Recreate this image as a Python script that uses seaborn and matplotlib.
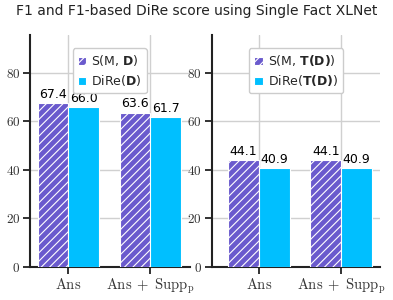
import numpy as np
import pandas as pd
import matplotlib
matplotlib.use("Agg")
import matplotlib.pyplot as plt
import seaborn as sns

# data
settings = ["Ans", "Ans + Supp_p"]
setting_labels = [r"$\mathrm{Ans}$", r"$\mathrm{Ans}\;+\;\mathrm{Supp}_\mathrm{p}$"]
metrics = ["S", "DiRe"]
left_s = [67.4, 63.6]
left_dire = [66.0, 61.7]
right_s = [44.1, 44.1]
right_dire = [40.9, 40.9]
left_legend = [r"S(M, $\mathbf{D}$)", r"DiRe($\mathbf{D}$)"]
right_legend = [r"S(M, $\mathbf{T(D)}$)", r"DiRe($\mathbf{T(D)}$)"]
yticks = [0, 20, 40, 60, 80]

colors = ["#6A5ACD", "#00BFFF"]

sns.set_style("whitegrid")
plt.rcParams["font.family"] = ["DejaVu Sans"]
plt.rcParams["mathtext.fontset"] = "dejavusans"
plt.rcParams["axes.edgecolor"] = "#222222"
plt.rcParams["grid.color"] = "#d0d0d0"
plt.rcParams["hatch.linewidth"] = 0.8


def long_df(s_vals, d_vals):
    rows = []
    for i, st in enumerate(settings):
        rows.append({"setting": st, "metric": "S", "score": s_vals[i]})
        rows.append({"setting": st, "metric": "DiRe", "score": d_vals[i]})
    return pd.DataFrame(rows)


fig = plt.figure(figsize=(3.93, 3.0), dpi=100)
ax1 = fig.add_axes([0.076, 0.11, 0.407, 0.773])
ax2 = fig.add_axes([0.539, 0.11, 0.428, 0.773])

panels = [
    (ax1, left_s, left_dire, left_legend, (-0.47, 1.48)),
    (ax2, right_s, right_dire, right_legend, (-0.57, 1.47)),
]

for ax, s_vals, d_vals, leg_labels, xlim in panels:
    df = long_df(s_vals, d_vals)
    sns.barplot(data=df, x="setting", y="score", hue="metric",
                hue_order=metrics, palette=colors, saturation=1, width=0.75,
                edgecolor="white", linewidth=0.8, ax=ax, zorder=3)
    for p in ax.containers[0]:
        p.set_hatch("////")
    for c in ax.containers:
        ax.bar_label(c, fmt="%.1f", padding=1.5, fontsize=9, color="black")
    ax.set_ylim(0, 95.5)
    ax.set_xlim(*xlim)
    ax.set_xlabel("")
    ax.set_ylabel("")
    ax.set_yticks(yticks)
    ax.set_yticklabels([f"${v}$" for v in yticks], math_fontfamily="cm", fontsize=9.5)
    ax.set_xticks(range(len(settings)))
    ax.set_xticklabels(setting_labels, math_fontfamily="cm", fontsize=10.5)
    ax.grid(True, color="#d0d0d0", linewidth=1, zorder=0)
    ax.set_axisbelow(True)
    sns.despine(ax=ax)
    ax.spines["left"].set_linewidth(1.5)
    ax.spines["bottom"].set_linewidth(1.5)
    ax.tick_params(axis="both", which="major", length=5, width=1.3,
                   color="#222222", bottom=True, left=True, pad=2,
                   labelcolor="#333333")
    ax.legend(handles=[ax.containers[0], ax.containers[1]], labels=leg_labels,
              loc="upper center", fontsize=9, handlelength=0.7,
              handleheight=0.7, handletextpad=0.4, borderpad=0.4,
              labelspacing=0.4, frameon=True, framealpha=1,
              edgecolor="#cccccc", bbox_to_anchor=(0.5, 0.97))

fig.suptitle("F1 and F1-based DiRe score using Single Fact XLNet",
             fontsize=10, y=0.985, color="#222222")

plt.savefig("out.png", dpi=100)
